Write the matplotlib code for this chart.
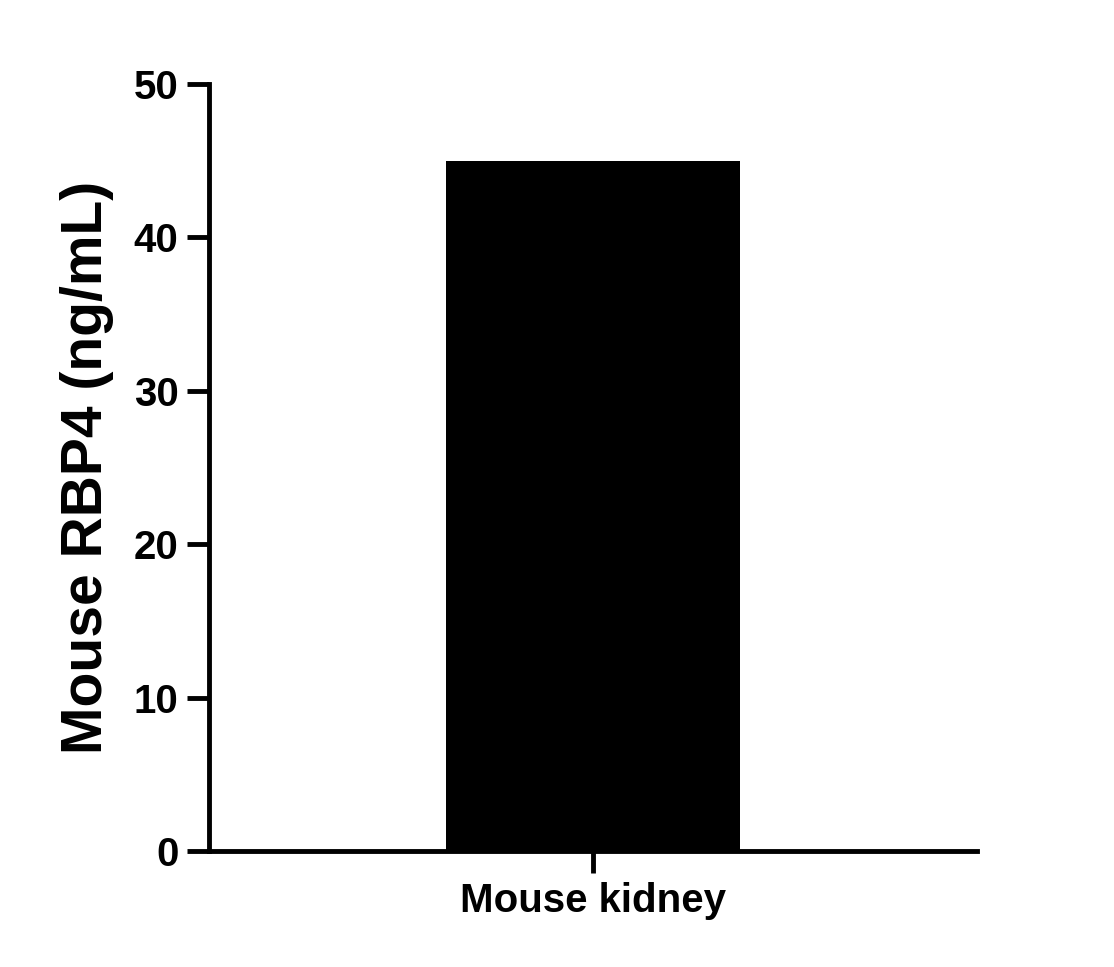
import matplotlib
matplotlib.use("Agg")
import matplotlib.pyplot as plt

categories = ["Mouse kidney"]
values = [45.0]
yticks = [0, 10, 20, 30, 40, 50]

fig = plt.figure(figsize=(11.14, 9.67), dpi=100)
ax = fig.add_axes([209/1114, 1-851/967, 768/1114, 767/967])
ax.bar([0], values, width=0.766, color="black")
ax.set_xlim(-1, 1)
ax.set_ylim(0, 50)
ax.set_xticks([0])
ax.set_xticklabels(categories, fontsize=29, fontweight="bold", family="Liberation Sans")
ax.set_yticks(yticks)
ax.set_yticklabels([str(t) for t in yticks], fontsize=29, fontweight="bold", family="Liberation Sans")
ax.set_ylabel("Mouse RBP4 (ng/mL)", fontsize=41, fontweight="bold", family="Liberation Sans", labelpad=14)
for s in ["top", "right"]:
    ax.spines[s].set_visible(False)
for s in ["left", "bottom"]:
    ax.spines[s].set_linewidth(3.5)
ax.tick_params(axis="both", width=3.5, length=16, pad=6)
fig.savefig("out.png", dpi=100)
